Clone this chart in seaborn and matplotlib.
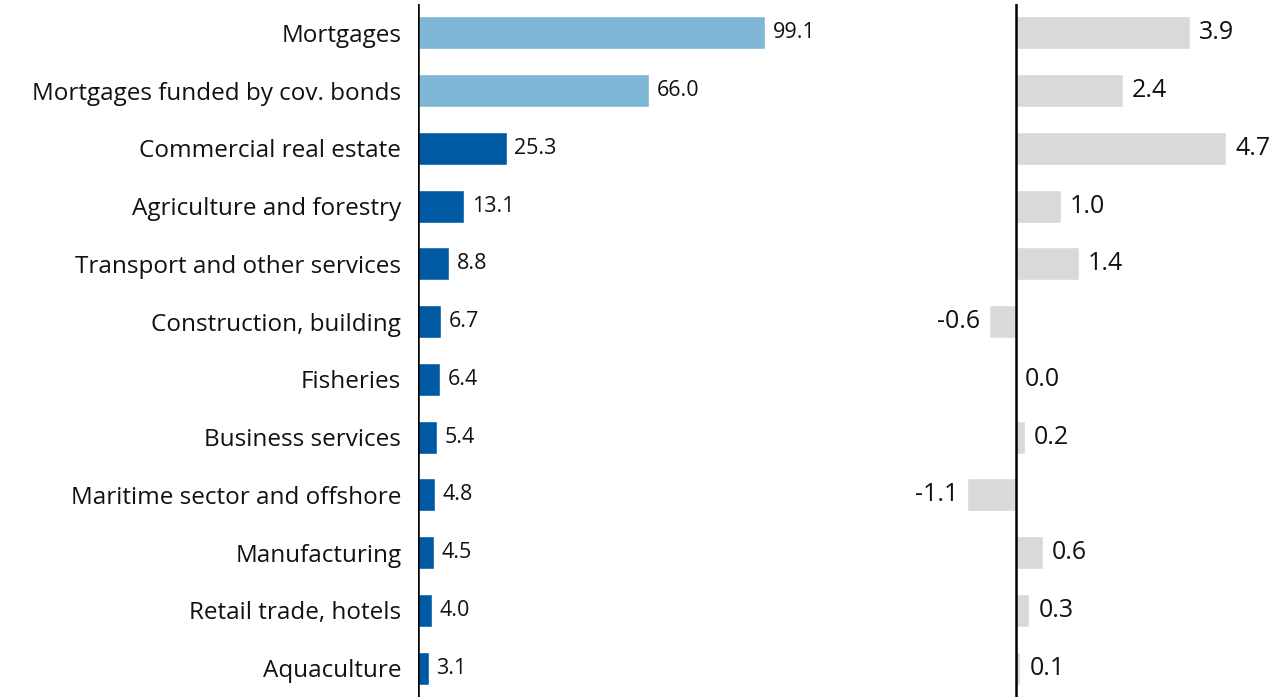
import matplotlib
matplotlib.use("Agg")
import matplotlib.pyplot as plt
import seaborn as sns
import pandas as pd

categories = [
    "Mortgages",
    "Mortgages funded by cov. bonds",
    "Commercial real estate",
    "Agriculture and forestry",
    "Transport and other services",
    "Construction, building",
    "Fisheries",
    "Business services",
    "Maritime sector and offshore",
    "Manufacturing",
    "Retail trade, hotels",
    "Aquaculture",
]
levels = [99.1, 66.0, 25.3, 13.1, 8.8, 6.7, 6.4, 5.4, 4.8, 4.5, 4.0, 3.1]
changes = [3.9, 2.4, 4.7, 1.0, 1.4, -0.6, 0.0, 0.2, -1.1, 0.6, 0.3, 0.1]
groups = ["household"] * 2 + ["corporate"] * 10

LIGHT_BLUE = "#7fb5d5"
DARK_BLUE = "#005aa3"
GREY = "#d9d9d9"

sns.set_theme(style="white")
plt.rcParams["font.family"] = ["Open Sans", "DejaVu Sans"]

df = pd.DataFrame({"category": categories, "level": levels,
                   "change": changes, "group": groups})

fig = plt.figure(figsize=(12.81, 6.99), dpi=100)
W, H = 1281, 699
ax1 = fig.add_axes([418 / W, 2 / H, (900 - 418) / W, 693 / H])
ax2 = fig.add_axes([926 / W, 2 / H, (1281 - 926) / W, 693 / H])

sns.barplot(data=df, y="category", x="level", hue="group", orient="h",
            palette={"household": LIGHT_BLUE, "corporate": DARK_BLUE},
            dodge=False, width=0.57, legend=False, ax=ax1, saturation=1)
sns.barplot(data=df, y="category", x="change", orient="h", color=GREY,
            width=0.57, ax=ax2, saturation=1)

ax1.set_xlim(0, (900 - 418) / 3.5)
ax2.set_xlim(-90 / 44.7, (1281 - 1016) / 44.7)
for ax in (ax1, ax2):
    ax.set_ylim(11.5, -0.5)
    ax.set_xlabel("")
    ax.set_ylabel("")
    ax.set_xticks([])
    for s in ("top", "right", "bottom", "left"):
        ax.spines[s].set_visible(False)
    ax.axvline(0, color="black", lw=1.8, zorder=5)

ax1.tick_params(axis="y", length=0, pad=12, labelsize=17.5, labelcolor="#111111")
ax2.set_yticks([])

for i, v in enumerate(levels):
    ax1.text(v + 2.2, i, f"{v:.1f}", va="center", ha="left",
             fontsize=15.5, color="#111111")

for i, v in enumerate(changes):
    if v < 0:
        ax2.text(v - 0.2, i, f"{v:.1f}", va="center", ha="right",
                 fontsize=18, color="#111111")
    else:
        ax2.text(v + 0.2, i, f"{v:.1f}", va="center", ha="left",
                 fontsize=18, color="#111111")

fig.savefig("out.png", dpi=100)
